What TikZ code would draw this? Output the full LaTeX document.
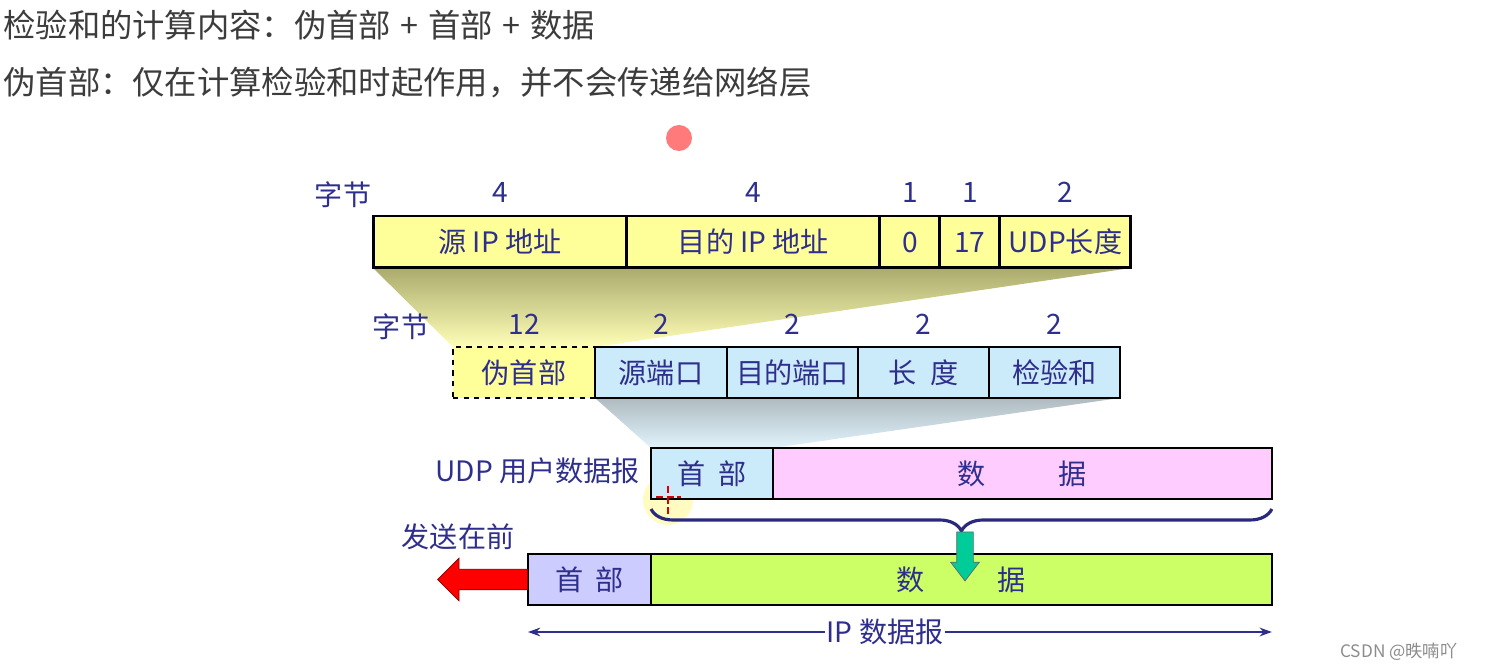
\documentclass[tikz,border=0pt]{standalone}
\usepackage{fontspec}
\setmainfont{Noto Sans CJK SC}
\usepackage{tikz}
\usetikzlibrary{positioning,shapes.arrows,decorations.pathreplacing,arrows.meta,backgrounds}
\usepackage{xcolor}
\definecolor{ink}{HTML}{2E2E8C}
\definecolor{gray1}{HTML}{3C3C3C}
\definecolor{yel}{HTML}{FFFF99}
\definecolor{blu}{HTML}{CCEBFA}
\definecolor{pnk}{HTML}{FFCCFF}
\definecolor{lav}{HTML}{CCCCFF}
\definecolor{lim}{HTML}{CCFF66}
\definecolor{tealarrow}{HTML}{00CC99}
\definecolor{dot}{HTML}{FF7B7B}

\begin{document}
\begin{tikzpicture}[x=0.02cm, y=-0.02cm, node distance=0pt, every node/.style={font=\fontsize{16}{18}\selectfont, text=ink}]
\tikzstyle{cell}=[draw=black, line width=1.1pt, minimum height=1.02cm, inner sep=1pt, outer sep=0pt]
\tikzstyle{topcell}=[cell, fill=yel, line width=1.7pt, minimum height=1.04cm]
\tikzstyle{num}=[inner sep=0pt]
\tikzstyle{heading}=[anchor=west, inner sep=0pt, text=gray1, font=\fontsize{18.4}{20}\selectfont]
\useasboundingbox (0,0) rectangle (1485,671);

\node[heading] (h1) at (3,25) {检验和的计算内容：伪首部\hspace{0.3em}+\hspace{0.3em}首部\hspace{0.3em}+\hspace{0.3em}数据};
\node[heading] (h2) at (3,82) {伪首部：仅在计算检验和时起作用，并不会传递给网络层};
\fill[dot] (679,138) circle (13);

\node[topcell, minimum width=5.08cm] (srcip) at (500,242) {源 IP 地址};
\node[topcell, minimum width=5.06cm, right=of srcip] (dstip) {目的 IP 地址};
\node[topcell, minimum width=1.2cm, right=of dstip] (zero) {0};
\node[topcell, minimum width=1.2cm, right=of zero] (proto) {17};
\node[topcell, minimum width=2.62cm, right=of proto] (udplen) {UDP长度};
\node[num] (bytes1) at (343,195) {字节};
\node[num] (n1) at ([yshift=0.48cm]srcip.north) {4};
\node[num] (n2) at ([yshift=0.48cm]dstip.north) {4};
\node[num] (n3) at ([yshift=0.48cm]zero.north) {1};
\node[num] (n4) at ([yshift=0.48cm]proto.north) {1};
\node[num] (n5) at ([yshift=0.48cm]udplen.north) {2};

\node[cell, fill=yel, dashed, line width=1.5pt, minimum width=2.84cm] (pseudo) at (524,372.5) {伪首部};
\node[cell, fill=blu, minimum width=2.64cm, right=of pseudo] (srcport) {源端口};
\node[cell, fill=blu, minimum width=2.62cm, right=of srcport] (dstport) {目的端口};
\node[cell, fill=blu, minimum width=2.62cm, right=of dstport] (len) {长\hspace{0.5em}度};
\node[cell, fill=blu, minimum width=2.62cm, right=of len] (checksum) {检验和};
\node[num] (bytes2) at (401,327) {字节};
\node[num] (m1) at ([yshift=0.46cm]pseudo.north) {12};
\node[num] (m2) at ([yshift=0.46cm]srcport.north) {2};
\node[num] (m3) at ([yshift=0.46cm]dstport.north) {2};
\node[num] (m4) at ([yshift=0.46cm]len.north) {2};
\node[num] (m5) at ([yshift=0.46cm]checksum.north) {2};

\node[cell, fill=blu, minimum width=2.44cm] (udphdr) at (712,473.5) {首\hspace{0.45em}部};
\node[cell, fill=pnk, minimum width=9.98cm, right=of udphdr] (udpdata) {数\hspace{2.6em}据};
\node[anchor=east, inner sep=0pt] (udplabel) at (640,471) {UDP 用户数据报};

\node[cell, fill=lav, line width=1.4pt, minimum width=2.46cm] (iphdr) at (589.5,579.5) {首\hspace{0.45em}部};
\node[cell, fill=lim, line width=1.4pt, minimum width=12.42cm, right=of iphdr] (ipdata) {数\hspace{2.6em}据};
\node[num] (first) at (458,537) {发送在前};

\begin{scope}[on background layer]
\shade[top color=black!30!yel!85!gray, bottom color=yel!70] (srcip.south west) -- (udplen.south east) -- (pseudo.north east) -- (pseudo.north west) -- cycle;
\shade[top color=blu!60!black!60, bottom color=blu!60] (srcport.south west) -- (checksum.south east) -- (udphdr.north east) -- (udphdr.north west) -- cycle;
\fill[yellow!35, opacity=0.7] (668,500) circle (25);
\end{scope}
\draw[red!85!black, line width=1.2pt, dashed, dash pattern=on 4pt off 2pt] (668,486) -- (668,516) (656,497) -- (681,497);

\coordinate (bl) at (udphdr.south west |- 0,509);
\coordinate (br) at (udpdata.south east |- 0,509);
\draw[ink!90!black, line width=1.8pt, decorate, decoration={brace, mirror, amplitude=0.44cm}] (bl) -- (br);

\node[single arrow, draw=black!60, fill=tealarrow, shape border rotate=270, minimum height=0.98cm, single arrow head extend=0.12cm, single arrow tip angle=75, inner sep=0.16cm] (down) at (965,551) {};
\node[single arrow, draw=red!50!black, fill=red, shape border rotate=180, minimum height=1.8cm, single arrow head extend=0.22cm, inner sep=0.2cm, anchor=east] (send) at (iphdr.west) {};

\coordinate (ipl) at (iphdr.west |- 0,632);
\coordinate (ipr) at (ipdata.east |- 0,632);
\draw[ink, line width=0.9pt, {Stealth[length=7pt,width=5pt]}-{Stealth[length=7pt,width=5pt]}] (ipl) -- node[pos=0.48, fill=white, inner sep=1pt] (iplabel) {IP 数据报} (ipr);

\node[anchor=west, inner sep=0pt, text=black!45, font=\fontsize{9.8}{11}\selectfont] (mark) at (1340,652) {CSDN @昳喃吖};
\end{tikzpicture}
\end{document}
